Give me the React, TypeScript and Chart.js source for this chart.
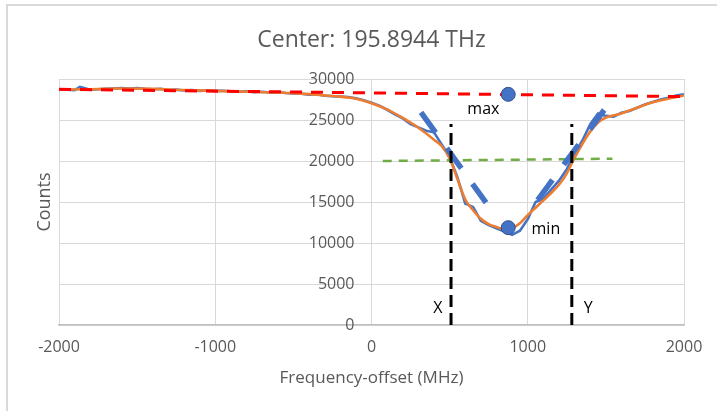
import React, { useEffect, useRef } from "react";
import { Chart, registerables } from "chart.js";

Chart.register(...registerables);

const FONT = "'Open Sans', 'Liberation Sans', sans-serif";

const TITLE = "Center: 195.8944 THz";
const X_TITLE = "Frequency-offset (MHz)";
const Y_TITLE = "Counts";

const xTickValues = [-2000, -1000, 0, 1000, 2000];

// measured (raw) counts
const rawFreq = [
  -2000, -1950, -1900, -1866, -1800, -1750, -1700, -1650, -1600, -1550, -1500, -1450, -1400, -1350, -1300, -1250,
  -1200, -1150, -1100, -1050, -1000, -950, -900, -850, -800, -750, -700, -650, -600, -550, -500, -450, -400, -350,
  -300, -250, -200, -150, -100, -50, 0, 50, 100, 150, 200, 250, 300, 350, 400, 450, 500, 550, 600, 650, 700, 750,
  800, 850, 900, 950, 1000, 1050, 1100, 1150, 1200, 1250, 1300, 1350, 1400, 1450, 1500, 1550, 1600, 1650, 1700,
  1750, 1800, 1850, 1900, 1950, 2000,
];
const rawCounts = [
  28750, 28700, 28650, 29050, 28700, 28750, 28800, 28850, 28900, 28850, 28900, 28800, 28750, 28800, 28650, 28700,
  28600, 28650, 28550, 28600, 28550, 28550, 28500, 28450, 28500, 28400, 28450, 28350, 28400, 28300, 28250, 28200,
  28100, 28150, 27950, 27900, 27850, 27800, 27650, 27400, 27100, 26750, 26250, 25700, 25200, 24500, 24100, 23700,
  23500, 22000, 20500, 18000, 14800, 14400, 12700, 12200, 11800, 11400, 11000, 11500, 12900, 15000, 15400, 16500,
  17600, 19000, 20900, 22500, 24500, 25800, 25500, 25400, 25900, 26100, 26500, 26900, 27200, 27500, 27700, 28000,
  28150,
];

// smoothed counts
const smoothFreq = [
  -2000, -1800, -1600, -1400, -1200, -1000, -800, -600, -400, -300, -200, -100, 0, 100, 200, 300, 400, 450, 500,
  550, 600, 650, 700, 750, 800, 870, 950, 1000, 1050, 1100, 1150, 1200, 1250, 1300, 1350, 1400, 1450, 1500, 1600,
  1700, 1800, 1900, 2000,
];
const smoothCounts = [
  28700, 28750, 28850, 28800, 28650, 28550, 28450, 28350, 28150, 28000, 27850, 27600, 27050, 26300, 25250, 24050,
  22600, 21800, 20300, 17800, 15300, 14000, 12950, 12300, 11950, 11600, 12400, 13400, 14300, 15200, 16100, 17100,
  18500, 20400, 22100, 23600, 24700, 25300, 25800, 26500, 27150, 27600, 28000,
];

// fitted / helper lines
const baselineFreq = [-2000, 2000];
const baselineCounts = [28750, 27850];
const halfFreq = [72, 1542];
const halfCounts = [20000, 20280];
const leftSlopeFreq = [317, 733];
const leftSlopeCounts = [25930, 14920];
const rightSlopeFreq = [1063, 1489];
const rightSlopeCounts = [15240, 26220];
const markerFreq = [875, 875];
const markerCounts = [28130, 11870];
const xLineFreq = [509, 509];
const yLineFreq = [1282, 1282];
const vLineCounts = [0, 24500];

const noteTexts = ["max", "min", "X", "Y"];
const noteFreq = [716, 1116, 424, 1387];
const noteCounts = [26300, 11600, 2050, 2050];

// the value axis crosses at x = 0; its labels end a little to the left of it
const Y_LABEL_ANCHOR_X = -109;

const pts = (xs: number[], ys: number[]) => xs.map((x, i) => ({ x, y: ys[i] }));

const textPlugin = {
  id: "noteTexts",
  afterDatasetsDraw(chart: any) {
    const { ctx, scales, chartArea } = chart;
    const x = scales.x;
    const y = scales.y;
    ctx.save();
    ctx.font = `16px ${FONT}`;
    ctx.fillStyle = "#000000";
    ctx.textAlign = "center";
    ctx.textBaseline = "middle";
    noteTexts.forEach((t, i) => {
      ctx.fillText(t, x.getPixelForValue(noteFreq[i]), y.getPixelForValue(noteCounts[i]));
    });
    ctx.translate(45, (chartArea.top + chartArea.bottom) / 2);
    ctx.rotate(-Math.PI / 2);
    ctx.font = `18px ${FONT}`;
    ctx.fillStyle = "#595959";
    ctx.fillText(Y_TITLE, 0, 0);
    ctx.restore();
  },
};

export default function App() {
  const canvasRef = useRef<HTMLCanvasElement | null>(null);

  useEffect(() => {
    if (!canvasRef.current) return;
    const lineBase = { showLine: true, pointRadius: 0, pointHoverRadius: 0, fill: false };
    const chart = new Chart(canvasRef.current, {
      type: "scatter",
      data: {
        datasets: [
          {
            ...lineBase,
            label: "max/min",
            data: pts(markerFreq, markerCounts),
            showLine: false,
            pointRadius: 7,
            pointBackgroundColor: "#4472C4",
            pointBorderColor: "#2F528F",
            pointBorderWidth: 1,
            order: 0,
          },
          {
            ...lineBase,
            label: "X",
            data: pts(xLineFreq, vLineCounts),
            borderColor: "#000000",
            borderWidth: 3,
            borderDash: [12, 6],
            order: 1,
          },
          {
            ...lineBase,
            label: "Y",
            data: pts(yLineFreq, vLineCounts),
            borderColor: "#000000",
            borderWidth: 3,
            borderDash: [12, 6],
            order: 1,
          },
          {
            ...lineBase,
            label: "left slope",
            data: pts(leftSlopeFreq, leftSlopeCounts),
            borderColor: "#4472C4",
            borderWidth: 5.5,
            borderDash: [25, 19],
            order: 2,
          },
          {
            ...lineBase,
            label: "right slope",
            data: pts(rightSlopeFreq, rightSlopeCounts),
            borderColor: "#4472C4",
            borderWidth: 5.5,
            borderDash: [25, 19],
            order: 2,
          },
          {
            ...lineBase,
            label: "half",
            data: pts(halfFreq, halfCounts),
            borderColor: "#70AD47",
            borderWidth: 2.5,
            borderDash: [9, 7],
            order: 3,
          },
          {
            ...lineBase,
            label: "baseline",
            data: pts(baselineFreq, baselineCounts),
            borderColor: "#FF0000",
            borderWidth: 3,
            borderDash: [12, 9],
            order: 4,
          },
          {
            ...lineBase,
            label: "smoothed",
            data: pts(smoothFreq, smoothCounts),
            borderColor: "#ED7D31",
            borderWidth: 2.6,
            cubicInterpolationMode: "monotone",
            order: 5,
          },
          {
            ...lineBase,
            label: "raw",
            data: pts(rawFreq, rawCounts),
            borderColor: "#4472C4",
            borderWidth: 2.6,
            order: 6,
          },
        ],
      } as any,
      options: {
        animation: false,
        responsive: true,
        maintainAspectRatio: false,
        layout: { padding: { left: 59, right: 33, top: 0, bottom: 0 } },
        plugins: {
          legend: { display: false },
          tooltip: { enabled: false },
          title: {
            display: true,
            text: TITLE,
            color: "#595959",
            font: { family: FONT, size: 23, weight: "normal" },
            padding: { top: 27, bottom: 24.4 },
          },
        },
        scales: {
          x: {
            type: "linear",
            position: "bottom",
            min: -2000,
            max: 2000,
            afterBuildTicks: (scale: any) => {
              scale.ticks = xTickValues.map((v) => ({ value: v }));
            },
            afterFit: (scale: any) => {
              scale.height = 86;
            },
            grid: { color: "#d9d9d9", lineWidth: 1, drawTicks: false },
            border: { display: true, color: "#bfbfbf", width: 1.5 },
            ticks: {
              color: "#595959",
              font: { family: FONT, size: 16 },
              padding: 13,
              maxRotation: 0,
              callback: (v: any) => String(v),
            },
            title: {
              display: true,
              text: X_TITLE,
              color: "#595959",
              font: { family: FONT, size: 17 },
              padding: { top: 0, bottom: 22.8 },
            },
          },
          y: {
            type: "linear",
            position: { x: Y_LABEL_ANCHOR_X } as any,
            min: 0,
            max: 30000,
            ticks: {
              stepSize: 5000,
              color: "#595959",
              font: { family: FONT, size: 16 },
              padding: 0,
              callback: (v: any) => String(v),
            },
            grid: { color: "#d9d9d9", lineWidth: 1, drawTicks: false },
            border: { display: false },
          },
        },
      } as any,
      plugins: [textPlugin],
    });
    return () => chart.destroy();
  }, []);

  return (
    <div style={{ position: "absolute", left: 0, top: 0, width: 717, height: 411, background: "#fff", overflow: "hidden" }}>
      <div
        style={{
          position: "absolute",
          left: 6,
          top: 4,
          width: 760,
          height: 460,
          borderTop: "2px solid #d9d9d9",
          borderLeft: "2px solid #d9d9d9",
          boxSizing: "border-box",
        }}
      />
      <div style={{ position: "absolute", left: 0, top: 0, width: 717, height: 411 }}>
        <canvas ref={canvasRef} />
      </div>
    </div>
  );
}
